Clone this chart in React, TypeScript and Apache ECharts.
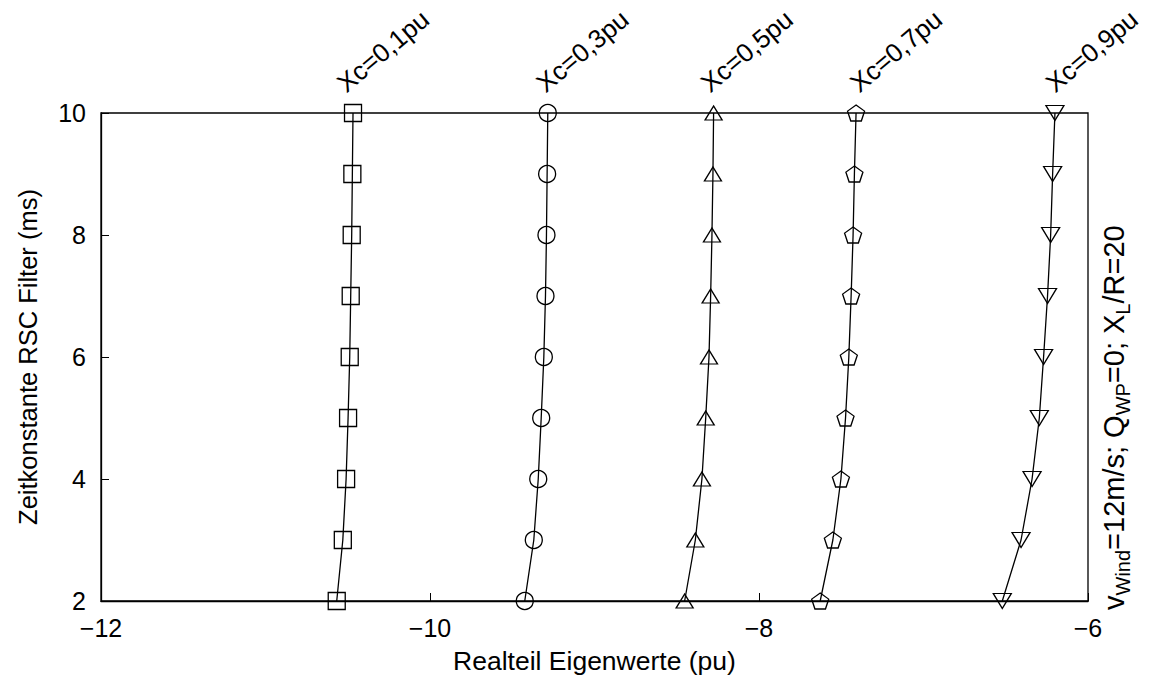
import React, { useEffect, useRef } from "react";
import * as echarts from "echarts";

const yValues = [2, 3, 4, 5, 6, 7, 8, 9, 10];
const xc01 = [-10.567, -10.53, -10.51, -10.498, -10.488, -10.482, -10.476, -10.472, -10.468];
const xc03 = [-9.424, -9.369, -9.342, -9.324, -9.308, -9.298, -9.292, -9.288, -9.284];
const xc05 = [-8.452, -8.387, -8.347, -8.324, -8.304, -8.294, -8.286, -8.28, -8.276];
const xc07 = [-7.628, -7.551, -7.502, -7.474, -7.454, -7.44, -7.428, -7.42, -7.41];
const xc09 = [-6.521, -6.407, -6.34, -6.296, -6.27, -6.246, -6.227, -6.215, -6.201];

const seriesNames = ["Xc=0,1pu", "Xc=0,3pu", "Xc=0,5pu", "Xc=0,7pu", "Xc=0,9pu"];
const labelX = [-10.492, -9.28, -8.281, -7.374, -6.184];
const labelY = 10.27;

const PENTAGON = "path://M0,-1 L0.951,-0.309 L0.588,0.809 L-0.588,0.809 L-0.951,-0.309 Z";
const INV_TRI = "path://M-1,-0.8 L1,-0.8 L0,0.8 Z";

const FONT = "Liberation Sans, Arial, Helvetica, sans-serif";

const fmt = (v: number) => (v < 0 ? "\u2212" + Math.abs(v) : String(v));

export default function App() {
  const ref = useRef<HTMLDivElement>(null);
  useEffect(() => {
    if (!ref.current) return;
    const chart = echarts.init(ref.current, undefined, { renderer: "svg" });
    const all = [xc01, xc03, xc05, xc07, xc09];
    const symbols: any[] = [
      { symbol: "rect", size: [17, 17] },
      { symbol: "circle", size: 17 },
      { symbol: "triangle", size: [17, 14] },
      { symbol: PENTAGON, size: [17, 16] },
      { symbol: INV_TRI, size: [18, 15] },
    ];
    const series = all.map((xs, i) => ({
      type: "line",
      name: seriesNames[i],
      data: xs.map((x, j) => [x, yValues[j]]),
      symbol: symbols[i].symbol,
      symbolSize: symbols[i].size,
      showAllSymbol: true,
      clip: false,
      lineStyle: { color: "#000", width: 1.3 },
      itemStyle: { color: "rgba(0,0,0,0)", borderColor: "#000", borderWidth: 1.3 },
      emphasis: { disabled: true },
    }));
    chart.setOption({
      animation: false,
      textStyle: { fontFamily: FONT },
      grid: {
        left: 101,
        right: 63,
        top: 113,
        bottom: 86,
        show: true,
        borderColor: "#000",
        borderWidth: 1.3,
        backgroundColor: "transparent",
      },
      xAxis: {
        type: "value",
        min: -12,
        max: -6,
        interval: 2,
        name: "Realteil Eigenwerte (pu)",
        nameLocation: "middle",
        nameGap: 46,
        nameTextStyle: { fontSize: 26.5, color: "#000", fontFamily: FONT },
        axisLine: { lineStyle: { color: "#000", width: 1.3 } },
        axisTick: { inside: true, length: 8, lineStyle: { color: "#000" } },
        axisLabel: { formatter: fmt, fontSize: 25, color: "#000", margin: 14, fontFamily: FONT },
        splitLine: { show: false },
      },
      yAxis: {
        type: "value",
        min: 2,
        max: 10,
        interval: 2,
        name: "Zeitkonstante RSC Filter (ms)",
        nameLocation: "middle",
        nameGap: 60,
        nameTextStyle: { fontSize: 25.5, color: "#000", fontFamily: FONT },
        axisLine: { lineStyle: { color: "#000", width: 1.3 } },
        axisTick: { inside: true, length: 8, lineStyle: { color: "#000" } },
        axisLabel: { fontSize: 25, color: "#000", margin: 15, fontFamily: FONT },
        splitLine: { show: false },
      },
      series,
    });

    const graphics: any[] = seriesNames.map((name, i) => {
      const p = chart.convertToPixel({ gridIndex: 0 }, [labelX[i], labelY]) as number[];
      return {
        type: "text",
        x: p[0],
        y: p[1],
        rotation: (40 * Math.PI) / 180,
        style: {
          text: name,
          fontSize: 26,
          fontFamily: FONT,
          fill: "#000",
          align: "left",
          verticalAlign: "bottom",
        },
      };
    });
    const br = chart.convertToPixel({ gridIndex: 0 }, [-6, 2]) as number[];
    graphics.push({
      type: "text",
      x: br[0] + 26,
      y: br[1] + 9,
      rotation: Math.PI / 2,
      style: {
        text: "{n|v}{s|Wind}{n|=12m/s; Q}{s|WP}{n|=0; X}{s|L}{n|/R=20}",
        fill: "#000",
        fontFamily: FONT,
        align: "left",
        verticalAlign: "middle",
        rich: {
          n: { fontSize: 29, lineHeight: 37, fontFamily: FONT, fill: "#000" },
          s: { fontSize: 20, lineHeight: 20, verticalAlign: "bottom", fontFamily: FONT, fill: "#000" },
        },
      },
    });
    chart.setOption({ graphic: graphics });

    return () => chart.dispose();
  }, []);
  return (
    <div
      ref={ref}
      style={{ position: "absolute", left: 0, top: 0, width: 1151, height: 687, background: "#fff" }}
    />
  );
}
